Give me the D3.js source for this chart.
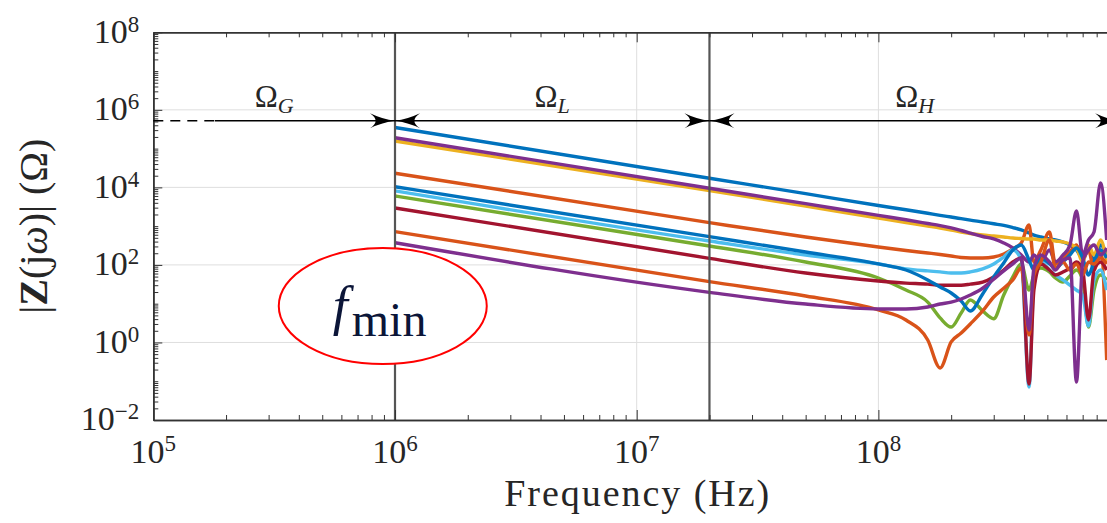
<!DOCTYPE html>
<html>
<head>
<meta charset="utf-8">
<script src="https://cdn.jsdelivr.net/npm/d3@7"></script>
<style>
  body { margin: 0; background: #fff; }
  svg { display: block; }
</style>
</head>
<body>
<div id="chart"></div>
<script>
// shared frequency grid (Hz) the curves were read at
const FREQ = [1e6, 2e7, 5e7, 1e8, 1.3e8, 1.6e8, 1.8e8, 2.0e8, 2.2e8, 2.4e8, 2.7e8, 3.0e8, 3.3e8, 3.6e8,
  3.9e8, 4.2e8, 4.4e8, 4.7e8, 5.1e8, 5.4e8, 5.8e8, 6.2e8, 6.6e8, 7.0e8, 7.4e8, 7.8e8, 8.3e8, 8.8e8];

// |Z(jw)| in ohms, one list per curve
const Z_BLUE_1 = [3.5e5, 1.72e4, 6.9e3, 3.4e3, 2650, 2150, 1900, 1720, 1570, 1430, 1280, 1150, 1050, 920,
  800, 665, 590, 525, 465, 440, 390, 325, 243, 151, 243, 134, 325, 180];
const Z_ORANGE_1 = [2.31e4, 1230, 525, 290, 236, 203, 186, 170, 155, 151, 151, 160, 191, 258,
  368, 1070, 119, 243, 706, 106, 151, 215, 325, 134, 243, 74, 243, 0.35];
const Z_YELLOW = [1.57e5, 8.3e3, 3.3e3, 1620, 1240, 1010, 897, 796, 706, 646, 591, 557, 525, 494,
  480, 466, 466, 440, 440, 414, 390, 347, 273, 119, 325, 180, 440, 119];
const Z_PURPLE_1 = [1.91e5, 9.5e3, 3.8e3, 1890, 1460, 1170, 1030, 900, 773, 665, 541, 467, 368, 273,
  180, 119, 180, 119, 243, 119, 180, 325, 2460, 180, 440, 706, 1.3e4, 440];
const Z_GREEN = [6.0e3, 308, 119, 46, 22.5, 11.0, 4.3, 2.5, 5.75, 12.4, 6.5, 4.1, 16.7, 49,
  106, 22.5, 55, 83, 66, 46, 36, 52, 74, 41, 2.5, 22.5, 55, 41];
const Z_LIGHTBLUE = [8.1e3, 414, 180, 106, 79, 70, 66, 62, 62, 66, 79, 106, 160, 243,
  134, 0.071, 41, 119, 74, 55, 41, 30, 22.5, 16.7, 2.65, 41, 74, 22.5];
const Z_DARKRED = [2.94e3, 148, 62, 38.5, 34, 32, 30, 30, 30, 32, 36, 49, 74, 119,
  151, 0.085, 22.5, 106, 74, 55, 66, 83, 119, 74, 3.8, 74, 119, 74];
const Z_BLUE_2 = [1.04e4, 535, 215, 106, 74, 41, 27, 18.9, 11.7, 6.5, 17.8, 49, 112, 243,
  325, 134, 74, 151, 106, 83, 119, 180, 273, 151, 55, 119, 243, 151];
const Z_ORANGE_2 = [720, 37, 15.8, 6.9, 3.8, 1.16, 0.22, 1.03, 1.75, 3.0, 6.5, 14.9, 25, 41,
  83, 1.56, 55, 119, 440, 83, 119, 74, 106, 55, 119, 106, 151, 106];
const Z_PURPLE_2 = [374, 19.6, 9.8, 7.3, 7.3, 8.2, 9.8, 11.0, 13.2, 16.7, 25, 43, 70, 106,
  151, 2.1, 83, 180, 119, 74, 134, 151, 0.095, 119, 243, 325, 180, 273];

const SERIES = [Z_BLUE_1, Z_ORANGE_1, Z_YELLOW, Z_PURPLE_1, Z_GREEN, Z_LIGHTBLUE, Z_DARKRED, Z_BLUE_2, Z_ORANGE_2, Z_PURPLE_2];
const SERIES_COLORS = ["#0072BD", "#D95319", "#EDB120", "#7E2F8E", "#77AC30", "#4DBEEE", "#A2142F", "#0072BD", "#D95319", "#7E2F8E"];

const X_TICKS = [1e5, 1e6, 1e7, 1e8];
const Y_TICKS = [1e-2, 1e0, 1e2, 1e4, 1e6, 1e8];
const X_GRID = [1e6, 1e7, 1e8];
const Y_GRID = [1e0, 1e2, 1e4, 1e6];

// frequency bands
const REGION_NAMES = ["G", "L", "H"];
const REGION_EDGES = [1e5, 1e6, 2e7, 1e9];
const ARROW_LEVEL = 5.2e5;
const G_SOLID_FROM = 1.8e5;

// f_min note
const NOTE_FREQ = 8.9e5, NOTE_Z = 8.7;

var SERIF = "'Liberation Serif', 'DejaVu Serif', serif";

var margin = { top: 32.3, right: 0, bottom: 103, left: 153.3 },
  width = 966.8,
  height = 387.7;

var svg = d3.select("#chart")
  .append("svg")
  .attr("width", 1107)
  .attr("height", 523)
  .attr("font-family", SERIF)
  .style("font-family", SERIF);

var g = svg.append("g")
  .attr("transform", "translate(" + margin.left + "," + margin.top + ")");

var x = d3.scaleLog().domain([1e5, 1e9]).range([0, width]);
var y = d3.scaleLog().domain([1e-2, 1e8]).range([height, 0]);

function minors(lo, hi, withOdd) {
  var t = [];
  for (var e = lo; e < hi; e++) {
    if (withOdd && e % 2 !== 0) t.push(Math.pow(10, e));
    for (var m = 2; m <= 9; m++) t.push(m * Math.pow(10, e));
  }
  return t;
}
var xMinor = minors(5, 9, false);
var yMinor = minors(-2, 8, true);

// grid
g.selectAll("line.xgrid").data(X_GRID).enter().append("line")
  .attr("x1", d => x(d)).attr("x2", d => x(d))
  .attr("y1", 0).attr("y2", height)
  .attr("stroke", "#dedede").attr("stroke-width", 1);
g.selectAll("line.ygrid").data(Y_GRID).enter().append("line")
  .attr("y1", d => y(d)).attr("y2", d => y(d))
  .attr("x1", 0).attr("x2", width)
  .attr("stroke", "#dedede").attr("stroke-width", 1);

// curves
svg.append("defs").append("clipPath").attr("id", "plotclip")
  .append("rect").attr("width", width).attr("height", height);

var line = d3.line()
  .x((d, i) => x(FREQ[i]))
  .y(d => y(d))
  .curve(d3.curveMonotoneX);

g.append("g").attr("clip-path", "url(#plotclip)")
  .selectAll("path").data(SERIES).enter().append("path")
  .attr("d", line)
  .attr("fill", "none")
  .attr("stroke", (d, i) => SERIES_COLORS[i])
  .attr("stroke-width", 3.4)
  .attr("stroke-linejoin", "round");

// band boundaries
g.selectAll("line.edge").data(REGION_EDGES.slice(1, 3)).enter().append("line")
  .attr("x1", d => x(d)).attr("x2", d => x(d))
  .attr("y1", 0).attr("y2", height)
  .attr("stroke", "#555").attr("stroke-width", 2.2);

// axes, ticks inward like matlab
function styleAxis(sel) {
  sel.selectAll("line").attr("stroke", "#333").attr("stroke-width", 1);
  sel.select(".domain").attr("stroke", "#333").attr("stroke-width", 1.6);
  sel.selectAll("text").remove();
}
g.append("g").attr("transform", "translate(0," + height + ")")
  .call(d3.axisBottom(x).tickValues(X_TICKS.concat([1e9])).tickSizeInner(-10).tickSizeOuter(0)).call(styleAxis);
g.append("g").attr("transform", "translate(0," + height + ")")
  .call(d3.axisBottom(x).tickValues(xMinor).tickSizeInner(-5).tickSizeOuter(0)).call(styleAxis);
g.append("g")
  .call(d3.axisTop(x).tickValues(X_TICKS.concat([1e9])).tickSizeInner(-10).tickSizeOuter(0)).call(styleAxis);
g.append("g")
  .call(d3.axisTop(x).tickValues(xMinor).tickSizeInner(-5).tickSizeOuter(0)).call(styleAxis);
g.append("g")
  .call(d3.axisLeft(y).tickValues(Y_TICKS).tickSizeInner(-9).tickSizeOuter(0)).call(styleAxis);
g.append("g")
  .call(d3.axisLeft(y).tickValues(yMinor).tickSizeInner(-5).tickSizeOuter(0)).call(styleAxis);
g.append("g").attr("transform", "translate(" + width + ",0)")
  .call(d3.axisRight(y).tickValues(Y_TICKS).tickSizeInner(-9).tickSizeOuter(0)).call(styleAxis);

function expText(d) {
  var e = Math.round(Math.log10(d));
  return e < 0 ? "\u2212" + (-e) : "" + e;
}

var xl = g.selectAll("text.xl").data(X_TICKS).enter().append("text")
  .attr("x", d => x(d)).attr("y", height + 43)
  .attr("text-anchor", "middle")
  .attr("fill", "#262626")
  .attr("font-family", SERIF)
  .style("font-size", "34px");
xl.append("tspan").text("10");
xl.append("tspan").attr("dy", -12).style("font-size", "23px").text(expText);

var yl = g.selectAll("text.yl").data(Y_TICKS).enter().append("text")
  .attr("x", -14).attr("y", d => y(d) + 10.5)
  .attr("text-anchor", "end")
  .attr("fill", "#262626")
  .attr("font-family", SERIF)
  .style("font-size", "34px");
yl.append("tspan").text("10");
yl.append("tspan").attr("dy", -11).style("font-size", "23px").text(expText);

g.append("text")
  .attr("x", width / 2).attr("y", height + 86)
  .attr("text-anchor", "middle")
  .attr("fill", "#262626")
  .attr("font-family", SERIF)
  .attr("textLength", 265).attr("lengthAdjust", "spacing")
  .style("font-size", "38px")
  .text("Frequency (Hz)");

var ylab = g.append("text")
  .attr("transform", "translate(-106," + (height / 2) + ") rotate(-90)")
  .attr("text-anchor", "middle")
  .attr("fill", "#262626")
  .attr("font-family", SERIF)
  .style("font-size", "40px");
ylab.append("tspan").text("|");
ylab.append("tspan").style("font-weight", "bold").text("Z");
ylab.append("tspan").text("(j");
ylab.append("tspan").style("font-style", "italic").text("\u03c9");
ylab.append("tspan").text(")| (\u03a9)");

// band arrows
function headPath(L, W) {
  return "M0,0 Q" + (-0.5 * L) + "," + (-0.2 * W) + " " + (-L) + "," + (-W) +
    " Q" + (-0.55 * L) + ",0 " + (-L) + "," + W +
    " Q" + (-0.5 * L) + "," + (0.2 * W) + " 0,0Z";
}
function head(xTip, dir) {
  g.append("path")
    .attr("d", headPath(25, 7.5))
    .attr("transform", "translate(" + xTip + "," + y(ARROW_LEVEL) + ") scale(" + dir + ",1)")
    .attr("fill", "#000");
}
var ay = y(ARROW_LEVEL);
g.append("line").attr("x1", x(REGION_EDGES[0])).attr("x2", x(G_SOLID_FROM))
  .attr("y1", ay).attr("y2", ay)
  .attr("stroke", "#000").attr("stroke-width", 1.5).attr("stroke-dasharray", "10,7");
g.append("line").attr("x1", x(G_SOLID_FROM)).attr("x2", x(REGION_EDGES[1]))
  .attr("y1", ay).attr("y2", ay).attr("stroke", "#000").attr("stroke-width", 1.5);
head(x(REGION_EDGES[1]), 1);
for (var r = 1; r < 3; r++) {
  g.append("line").attr("x1", x(REGION_EDGES[r])).attr("x2", x(REGION_EDGES[r + 1]))
    .attr("y1", ay).attr("y2", ay).attr("stroke", "#000").attr("stroke-width", 1.5);
  head(x(REGION_EDGES[r]), -1);
  head(x(REGION_EDGES[r + 1]), 1);
}

var om = g.selectAll("text.om").data(REGION_NAMES).enter().append("text")
  .attr("x", (d, i) => x(Math.sqrt(REGION_EDGES[i] * REGION_EDGES[i + 1])))
  .attr("y", ay - 14)
  .attr("text-anchor", "middle")
  .attr("fill", "#262626")
  .attr("font-family", SERIF)
  .style("font-size", "31px");
om.append("tspan").text("\u03a9");
om.append("tspan").attr("dy", 6).style("font-size", "22px").style("font-style", "italic").text(d => d);

// f_min note
var nx = x(NOTE_FREQ), ny = y(NOTE_Z);
g.append("ellipse")
  .attr("cx", nx).attr("cy", ny).attr("rx", 104).attr("ry", 58)
  .attr("fill", "#fff").attr("stroke", "#ff0000").attr("stroke-width", 2);
g.append("text")
  .attr("x", nx - 50).attr("y", ny + 18)
  .attr("fill", "#0b1538")
  .attr("font-family", SERIF)
  .style("font-size", "54px").style("font-style", "italic")
  .text("f");
g.append("text")
  .attr("x", nx - 31).attr("y", ny + 30)
  .attr("fill", "#0b1538")
  .attr("font-family", SERIF)
  .style("font-size", "48px")
  .text("min");
</script>
</body>
</html>
